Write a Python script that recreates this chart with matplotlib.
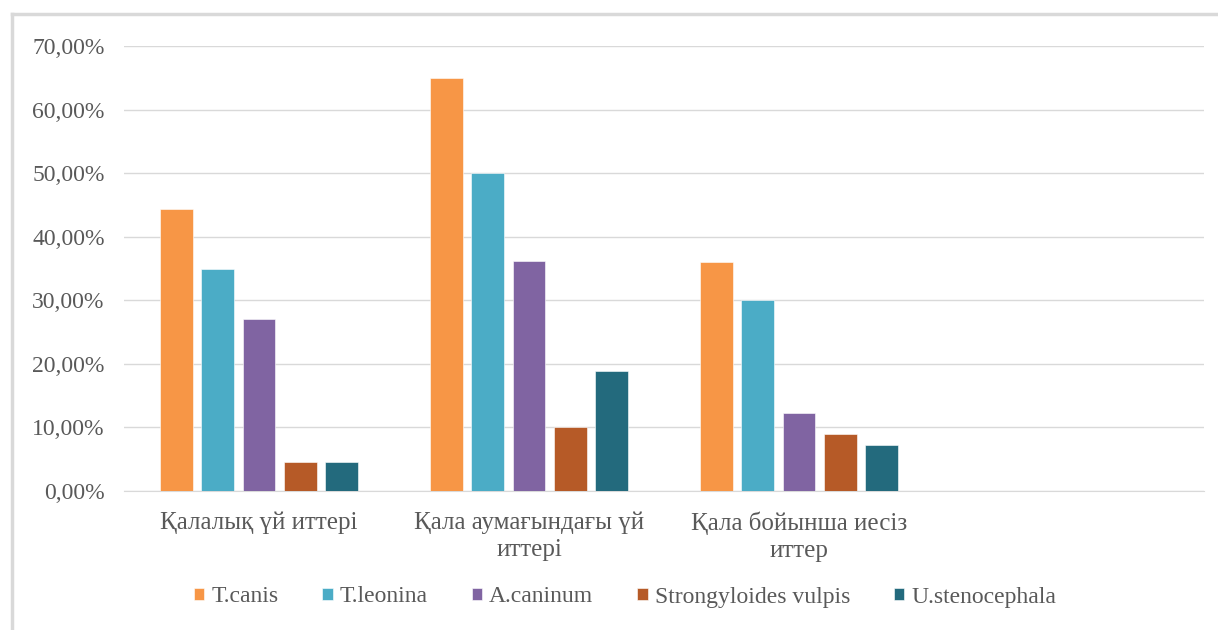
import matplotlib
matplotlib.use("Agg")
from matplotlib import pyplot as plt
from matplotlib.ticker import FuncFormatter, MultipleLocator
from matplotlib.lines import Line2D
import numpy as np

categories = ["Қалалық үй иттері", "Қала аумағындағы үй\nиттері", "Қала бойынша иесіз\nиттер", ""]
species = ["T.canis", "T.leonina", "A.caninum", "Strongyloides vulpis", "U.stenocephala"]
colors = ["#F79646", "#4BACC6", "#8064A2", "#B65A27", "#236A7D"]

# prevalence in %, one list per species (4th category is empty)
t_canis = [44.4, 65.0, 36.0, 0]
t_leonina = [35.0, 50.0, 30.0, 0]
a_caninum = [27.0, 36.2, 12.3, 0]
strongyloides = [4.6, 10.0, 9.0, 0]
u_steno = [4.6, 18.9, 7.2, 0]
series = [t_canis, t_leonina, a_caninum, strongyloides, u_steno]

plt.rcParams['font.family'] = ['Liberation Serif', 'DejaVu Serif']
txt = "#595959"

fig = plt.figure(figsize=(12.18, 6.30), dpi=100)
ax = fig.add_axes([124/1218, 1 - 491/630, 1080/1218, 445/630])

x = np.arange(len(categories))
w = 0.122
step = 0.152
for i, (vals, c, name) in enumerate(zip(series, colors, species)):
    ax.bar(x + (i - 2) * step, vals, w, color=c, edgecolor="white", linewidth=0.4, label=name, zorder=3)

ax.set_xlim(-0.5, 3.5)
ax.set_ylim(0, 70)
ax.yaxis.set_major_locator(MultipleLocator(10))
ax.yaxis.set_major_formatter(FuncFormatter(lambda v, p: f"{v:.2f}%".replace(".", ",")))
ax.grid(axis="y", color="#D9D9D9", linewidth=1, zorder=0)
for s in ["top", "right", "left"]:
    ax.spines[s].set_visible(False)
ax.spines["bottom"].set_color("#D9D9D9")
ax.tick_params(axis="both", length=0, colors=txt)
ax.tick_params(axis="y", pad=14, labelsize=17)
ax.tick_params(axis="x", pad=15, labelsize=18)
ax.set_xticks(x)
ax.set_xticklabels(categories, linespacing=1.25)

leg = fig.legend(loc="center", bbox_to_anchor=(625/1218, 1 - 597/630), ncol=5, frameon=False,
                 fontsize=17, handlelength=0.45, handleheight=0.45, handletextpad=0.3,
                 columnspacing=1.85)
for t in leg.get_texts():
    t.set_color(txt)

# outer chart frame (top and left edges visible)
fig.add_artist(Line2D([11.5/1218, 11.5/1218], [0, 1 - 14/630], color="#D9D9D9", linewidth=2.5))
fig.add_artist(Line2D([11.5/1218, 1], [1 - 14/630, 1 - 14/630], color="#D9D9D9", linewidth=2.5))

fig.savefig("out.png", dpi=100)
